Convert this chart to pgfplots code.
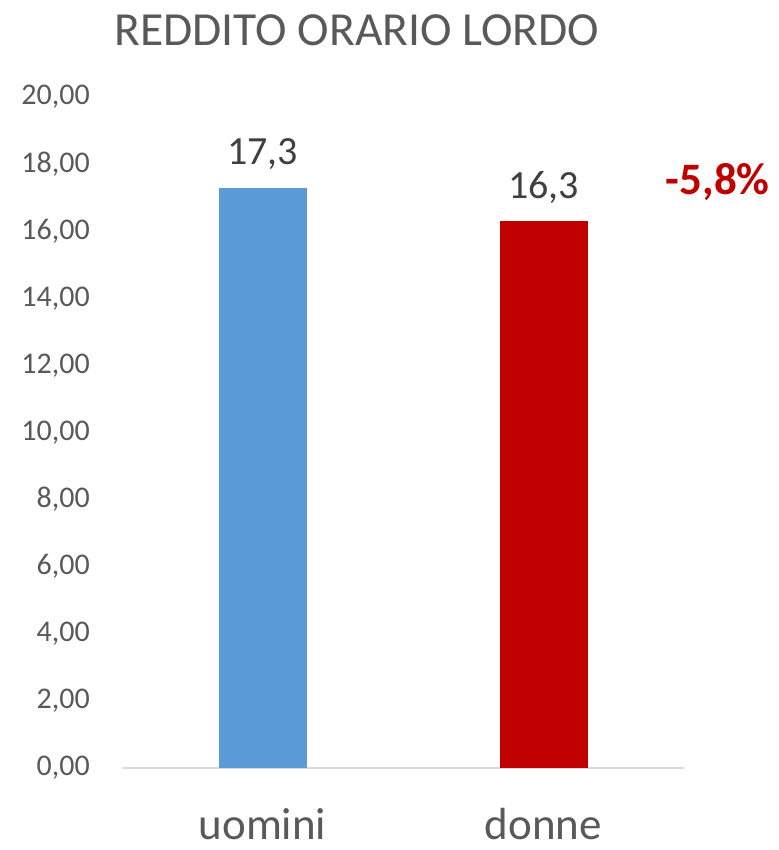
\documentclass[border=0pt]{standalone}
\usepackage{pgfplots}
\pgfplotsset{compat=1.18}
\usepackage{fontspec}
\setmainfont{Carlito}
\definecolor{cblue}{HTML}{5B9BD5}
\definecolor{cred}{HTML}{C00000}
\definecolor{tgray}{HTML}{595959}
\definecolor{vgray}{HTML}{404040}
\definecolor{lgray}{HTML}{D9D9D9}
\begin{document}
\begin{tikzpicture}
\path[use as bounding box] (0,0) rectangle (778pt,850pt);
\begin{axis}[
  at={(122pt,82pt)}, anchor=south west,
  scale only axis, width=562pt, height=671pt,
  xmin=-0.5, xmax=1.5, ymin=0, ymax=20,
  xtick={0,1}, xticklabels={uomini,donne},
  ytick={0,2,...,20},
  axis x line*=bottom, axis y line*=left,
  x axis line style={draw=lgray, line width=2pt},
  y axis line style={draw=none},
  major tick length=0pt,
  /pgf/number format/assume math mode=true,
  yticklabel style={/pgf/number format/.cd, fixed, fixed zerofill, precision=2, use comma, /tikz/.cd,
    anchor=east, inner sep=0pt, xshift=-32pt, font=\fontsize{30}{34}\selectfont, text=tgray},
  xticklabel style={anchor=base, inner sep=0pt, text depth=0pt, yshift=-71pt, font=\fontsize{45}{52}\selectfont, text=tgray},
  nodes near coords,
  nodes near coords style={/pgf/number format/.cd, fixed, fixed zerofill, precision=1, use comma, /tikz/.cd,
    anchor=base, inner sep=0pt, yshift=23pt, font=\fontsize{40}{46}\selectfont, text=vgray},
  clip=false,
]
\addplot[ybar, bar width=88pt, bar shift=0pt, fill=cblue, draw=none] coordinates {(0,17.3)};
\addplot[ybar, bar width=88pt, bar shift=0pt, fill=cred, draw=none] coordinates {(1,16.3)};
\node[anchor=base, text=cred, font=\bfseries\fontsize{45}{52}\selectfont] at (axis cs:1.62,17.08) {-5,8\%};
\end{axis}
\node[anchor=base, text=tgray, font=\fontsize{47.5}{56}\selectfont] at (357pt,804pt) {REDDITO ORARIO LORDO};
\end{tikzpicture}
\end{document}
